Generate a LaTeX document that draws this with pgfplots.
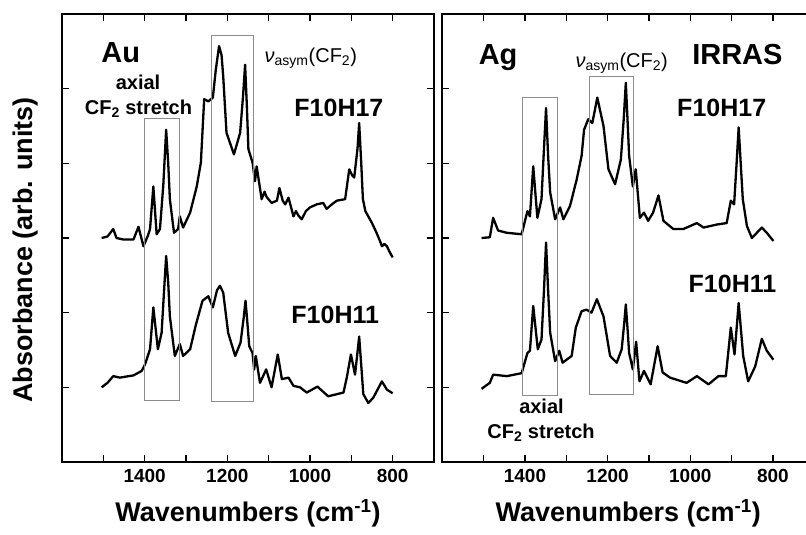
\documentclass[border=0pt]{standalone}
\usepackage{fontspec}
\setmainfont{Liberation Sans}
\usepackage{pgfplots}
\pgfplotsset{compat=1.18}
\definecolor{boxgray}{RGB}{140,140,140}
\newcommand{\fs}[1]{\fontsize{#1}{#1}\selectfont}
\pgfplotsset{
  panel/.style={
    scale only axis, width=372pt, height=448pt,
    xmin=700, xmax=1600, x dir=reverse,
    ymin=-1, ymax=5,
    xtick={1500,1400,...,800},
    xticklabels={,1400,,1200,,1000,,800},
    ytick={0,1,2,3,4}, yticklabels={},
    tick align=inside, major tick length=7pt,
    axis line style={line width=1.8pt},
    every tick/.style={line width=1.5pt, black},
    xticklabel style={font=\fs{19}\bfseries, yshift=-4pt},
    xlabel={Wavenumbers (cm\textsuperscript{-1})},
    xlabel style={font=\fs{27}\bfseries, at={(axis description cs:0.5,-0.114)}, anchor=center},
    clip=false,
  },
  spec/.style={black, line width=2.3pt, no marks, line join=round},
}
\begin{document}
\begin{tikzpicture}
\begin{axis}[panel, name=left,
  ylabel={Absorbance (arb. units)},
  ylabel style={font=\fs{27}\bfseries, at={(axis description cs:-0.097,0.473)}, anchor=center},
]
\addplot[spec] coordinates {
(1504,2.00)(1490,2.02)(1476,2.12)(1468,2.00)(1452,1.98)(1427,1.98)(1415,2.15)(1403,1.89)(1393,2.02)(1387,2.12)(1379,2.69)(1371,2.05)(1363,2.12)(1355,2.7)(1348,3.45)(1343,3.0)(1339,2.52)(1329,2.07)(1319,2.12)(1315,2.29)(1307,2.14)(1290,2.34)(1274,2.69)(1264,3.01)(1256,3.86)(1246,3.83)(1235,3.88)(1228,4.25)(1220,4.57)(1214,4.45)(1210,4.17)(1202,3.41)(1184,3.12)(1169,3.41)(1162,3.9)(1157,4.32)(1153,3.8)(1149,3.19)(1139,3.01)(1133,2.76)(1129,2.96)(1117,2.52)(1110,2.62)(1105,2.55)(1093,2.47)(1080,2.5)(1074,2.67)(1066,2.5)(1060,2.45)(1052,2.54)(1040,2.29)(1034,2.36)(1028,2.30)(1020,2.25)(1010,2.36)(1000,2.41)(992,2.43)(984,2.45)(968,2.47)(960,2.39)(945,2.46)(935,2.50)(915,2.52)(905,2.92)(898,2.84)(893,2.81)(885,3.2)(881,3.54)(876,3.0)(872,2.52)(866,2.36)(859,2.29)(850,2.2)(839,2.07)(830,1.95)(826,1.89)(820,1.92)(814,1.89)(808,1.82)(800,1.74)
};
\addplot[spec] coordinates {
(1504,0.00)(1490,0.06)(1476,0.15)(1460,0.13)(1427,0.16)(1407,0.22)(1399,0.31)(1387,0.51)(1379,1.07)(1368,0.51)(1359,0.73)(1353,1.3)(1348,1.76)(1343,1.4)(1339,0.95)(1327,0.42)(1315,0.58)(1307,0.42)(1290,0.51)(1276,0.84)(1266,1.04)(1260,1.16)(1246,1.22)(1235,1.07)(1225,1.3)(1218,1.36)(1210,1.27)(1198,0.73)(1181,0.42)(1168,0.60)(1160,0.95)(1156,1.16)(1152,0.9)(1147,0.55)(1139,0.46)(1135,0.24)(1131,0.42)(1121,0.06)(1106,0.24)(1093,0.00)(1078,0.44)(1068,0.11)(1052,0.13)(1040,0.02)(1024,0.00)(1008,-0.07)(982,0.01)(956,-0.12)(919,-0.07)(911,0.13)(901,0.44)(891,0.17)(881,0.68)(871,-0.09)(859,-0.21)(847,-0.14)(826,0.08)(814,-0.03)(800,-0.08)
};
\draw[boxgray, line width=0.8pt] (axis cs:1400,-0.17) rectangle (axis cs:1317,3.60);
\draw[boxgray, line width=0.8pt] (axis cs:1238,-0.19) rectangle (axis cs:1138,4.72);
\node[font=\fs{29}\bfseries, anchor=base] at (axis cs:1458,4.35) {Au};
\node[font=\fs{20}\bfseries, anchor=base] at (axis cs:1416,3.99) {axial};
\node[font=\fs{20}\bfseries, anchor=base] at (axis cs:1415,3.66) {CF\textsubscript{2} stretch};
\node[font=\fs{20}, anchor=base] at (axis cs:998,4.35) {\textit{ν}\textsubscript{asym}(CF\textsubscript{2})};
\node[font=\fs{25}\bfseries, anchor=base] at (axis cs:930,3.63) {F10H17};
\node[font=\fs{25}\bfseries, anchor=base] at (axis cs:939,0.857) {F10H11};
\end{axis}
\begin{axis}[panel, name=right, at={(380.3pt,0pt)}, anchor=south west]
\addplot[spec] coordinates {
(1505,2.00)(1485,2.01)(1477,2.27)(1465,2.10)(1444,2.07)(1408,2.05)(1394,2.36)(1388,2.29)(1380,2.96)(1370,2.27)(1360,2.52)(1354,3.2)(1349,3.74)(1344,3.1)(1339,2.61)(1327,2.25)(1315,2.41)(1307,2.25)(1291,2.43)(1275,2.78)(1263,3.10)(1257,3.45)(1247,3.59)(1237,3.54)(1225,3.88)(1210,3.50)(1198,2.92)(1182,2.72)(1168,3.05)(1161,3.6)(1156,4.08)(1152,3.6)(1148,3.10)(1139,2.69)(1132,2.92)(1122,2.27)(1112,2.34)(1102,2.23)(1090,2.34)(1077,2.57)(1065,2.23)(1041,2.12)(1017,2.12)(984,2.20)(968,2.14)(936,2.18)(912,2.20)(902,2.50)(894,2.45)(888,3.0)(883,3.48)(878,3.0)(873,2.52)(863,2.16)(851,2.00)(827,2.14)(815,2.07)(799,1.96)
};
\addplot[spec] coordinates {
(1505,-0.02)(1485,0.06)(1477,0.17)(1444,0.15)(1408,0.19)(1394,0.46)(1388,0.49)(1380,1.09)(1369,0.51)(1360,0.64)(1354,1.3)(1349,1.94)(1344,1.3)(1339,0.73)(1327,0.35)(1317,0.49)(1309,0.33)(1287,0.42)(1277,0.80)(1263,1.02)(1251,1.04)(1239,1.00)(1226,1.18)(1210,0.95)(1194,0.42)(1178,0.33)(1166,0.51)(1160,0.85)(1156,1.11)(1152,0.8)(1148,0.46)(1139,0.24)(1131,0.61)(1123,0.08)(1112,0.22)(1096,0.04)(1079,0.55)(1067,0.20)(1049,0.13)(1009,0.06)(984,0.15)(956,0.04)(932,0.15)(914,0.15)(902,0.80)(893,0.44)(883,1.13)(872,0.42)(860,0.08)(843,0.28)(827,0.65)(815,0.49)(799,0.37)
};
\draw[boxgray, line width=0.8pt] (axis cs:1406,-0.11) rectangle (axis cs:1322,3.88);
\draw[boxgray, line width=0.8pt] (axis cs:1244,-0.10) rectangle (axis cs:1138,4.16);
\node[font=\fs{29}\bfseries, anchor=base] at (axis cs:1465,4.32) {Ag};
\node[font=\fs{29}\bfseries, anchor=base] at (axis cs:886,4.32) {IRRAS};
\node[font=\fs{20}, anchor=base] at (axis cs:1166,4.28) {\textit{ν}\textsubscript{asym}(CF\textsubscript{2})};
\node[font=\fs{25}\bfseries, anchor=base] at (axis cs:924,3.63) {F10H17};
\node[font=\fs{25}\bfseries, anchor=base] at (axis cs:898,1.276) {F10H11};
\node[font=\fs{20}\bfseries, anchor=base] at (axis cs:1360,-0.35) {axial};
\node[font=\fs{20}\bfseries, anchor=base] at (axis cs:1361,-0.69) {CF\textsubscript{2} stretch};
\end{axis}
\pgfresetboundingbox
\useasboundingbox (-62pt,-73pt) rectangle (744pt,462pt);
\end{tikzpicture}
\end{document}
